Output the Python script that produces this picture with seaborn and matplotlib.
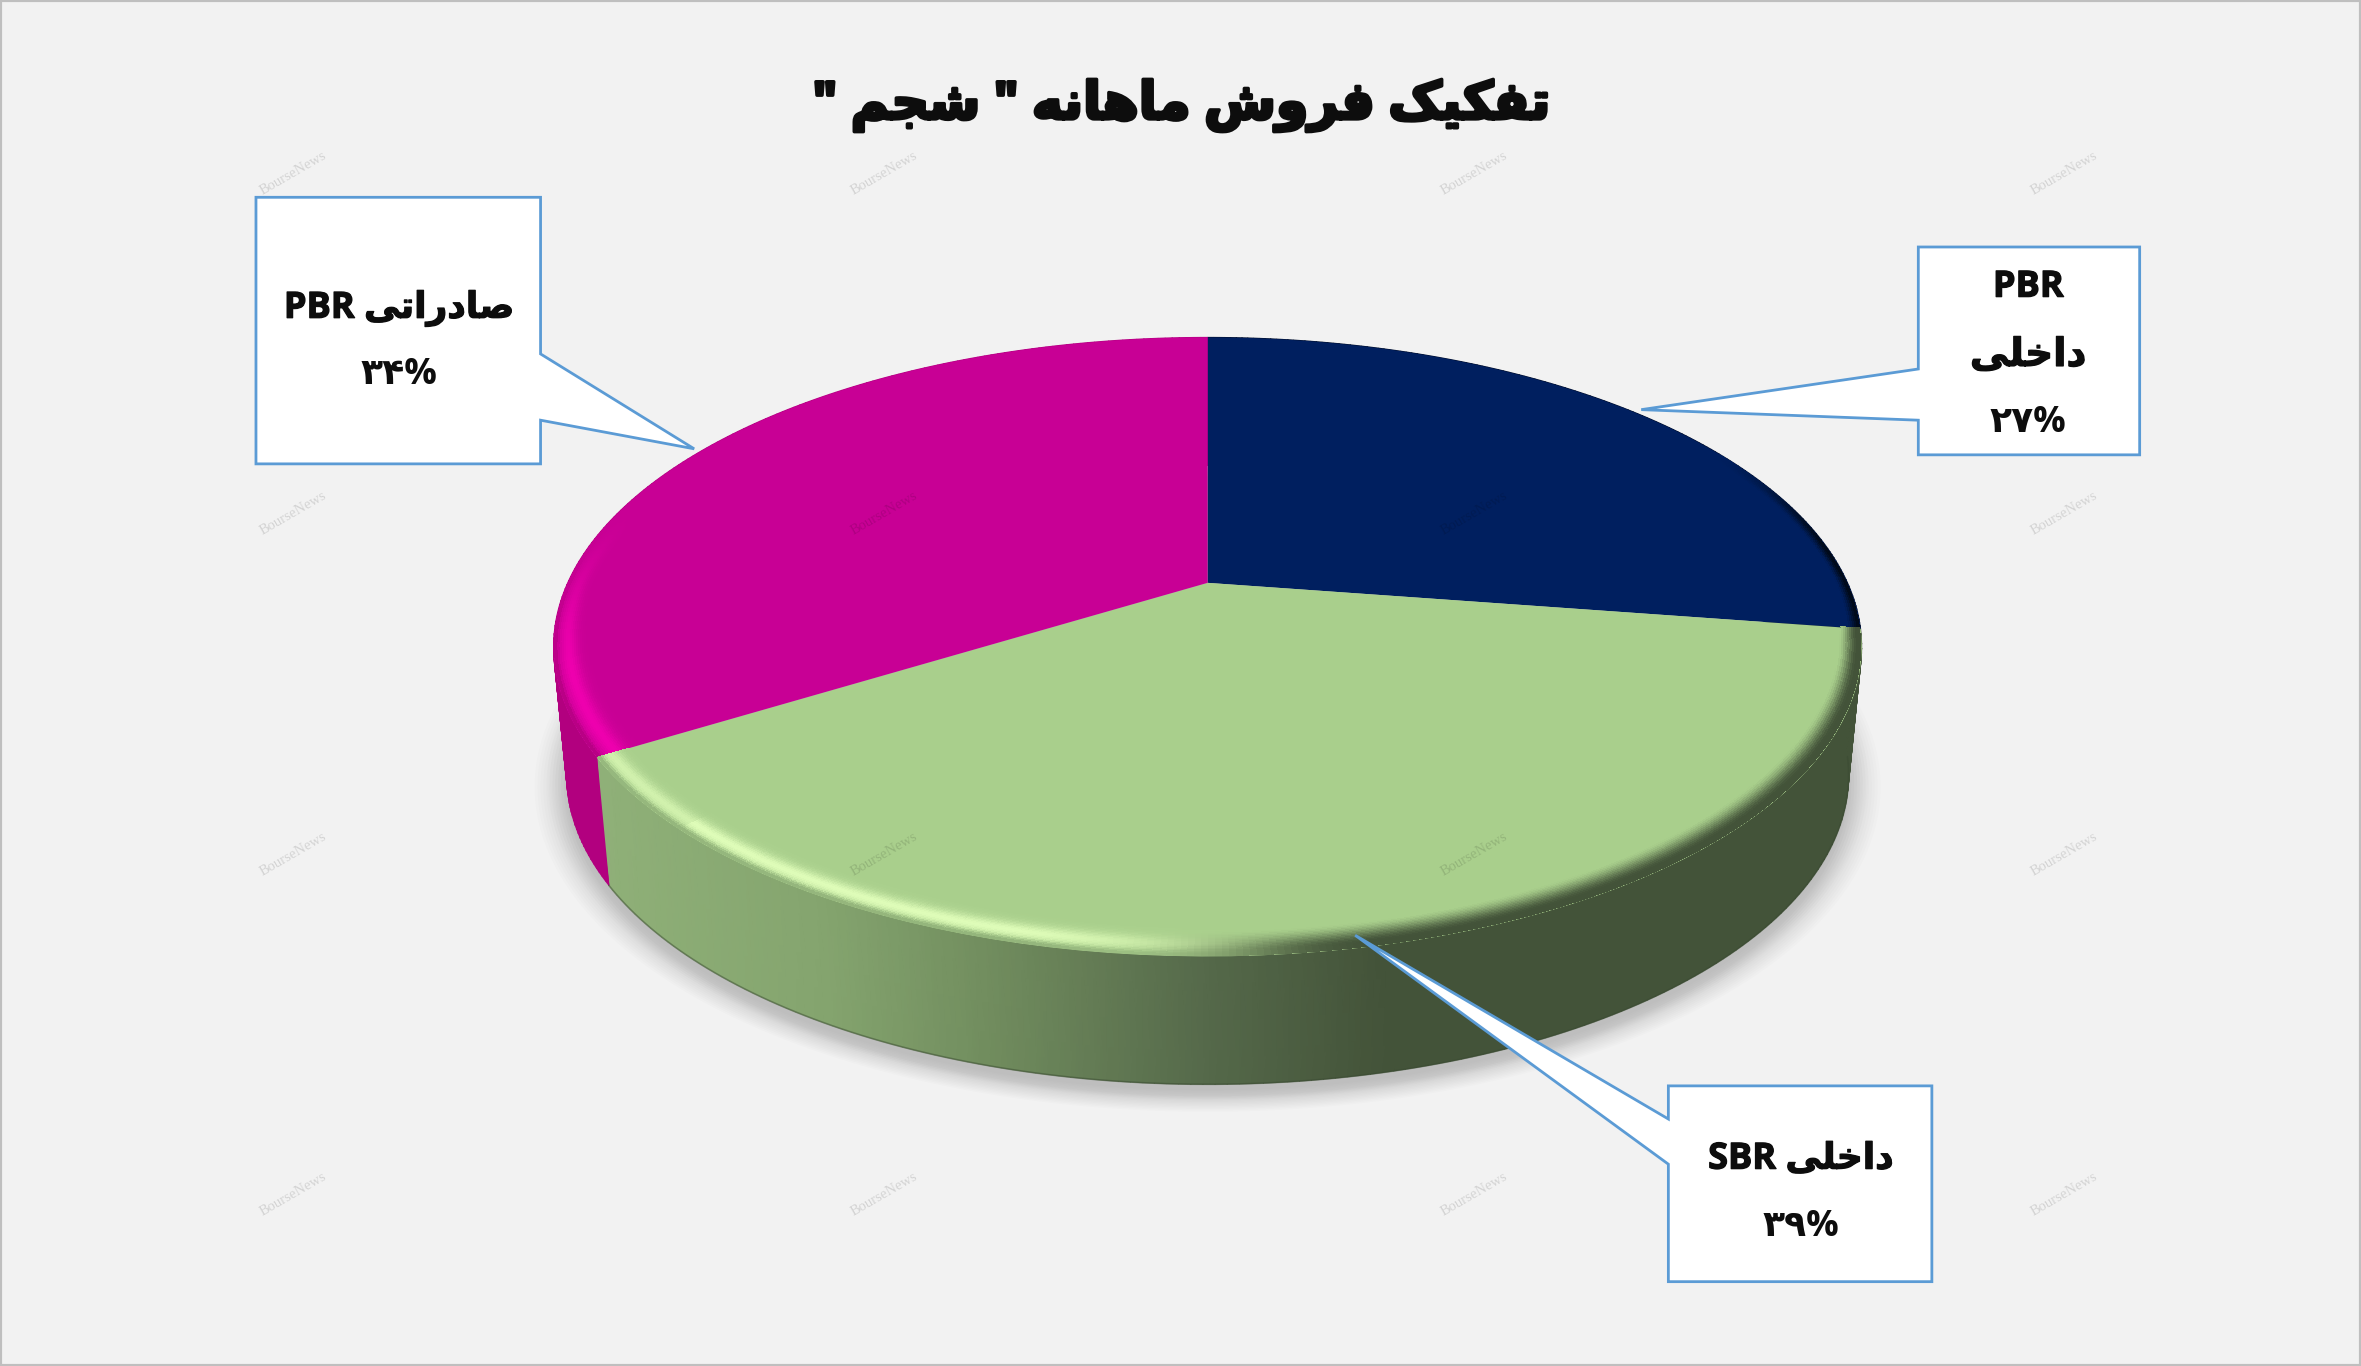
import numpy as np
import matplotlib
matplotlib.use("Agg")
import matplotlib.pyplot as plt
import matplotlib.patheffects as pe
import seaborn as sns
from matplotlib.transforms import Transform
from matplotlib.collections import PolyCollection
from matplotlib.colors import LinearSegmentedColormap, to_rgb
from matplotlib.patches import Polygon, Rectangle

# ---------- data ----------
series_names = ["PBR داخلی", "SBR داخلی", "صادراتی PBR"]
shares = [27.4, 38.8, 33.8]
share_labels = ["۲۷%", "۳۹%", "۳۴%"]
slice_colors = ["#001f5f", "#a9cf8c", "#c80095"]
title_text = 'تفکیک فروش ماهانه " شجم "'
watermark = "BourseNews"

# ---------- Persian shaping (matplotlib has no text shaping) ----------
FORMS = {
    "ت": (0xFE95, 0xFE96, 0xFE97, 0xFE98), "ف": (0xFED1, 0xFED2, 0xFED3, 0xFED4),
    "ک": (0xFB8E, 0xFB8F, 0xFB90, 0xFB91), "ی": (0xFBFC, 0xFBFD, 0xFBFE, 0xFBFF),
    "ش": (0xFEB5, 0xFEB6, 0xFEB7, 0xFEB8), "م": (0xFEE1, 0xFEE2, 0xFEE3, 0xFEE4),
    "ه": (0xFEE9, 0xFEEA, 0xFEEB, 0xFEEC), "ن": (0xFEE5, 0xFEE6, 0xFEE7, 0xFEE8),
    "ج": (0xFE9D, 0xFE9E, 0xFE9F, 0xFEA0), "ص": (0xFEB9, 0xFEBA, 0xFEBB, 0xFEBC),
    "خ": (0xFEA5, 0xFEA6, 0xFEA7, 0xFEA8), "ل": (0xFEDD, 0xFEDE, 0xFEDF, 0xFEE0),
    "ر": (0xFEAD, 0xFEAE), "و": (0xFEED, 0xFEEE), "ا": (0xFE8D, 0xFE8E), "د": (0xFEA9, 0xFEAA),
}

def shape(text):
    out = []
    for i, ch in enumerate(text):
        f = FORMS.get(ch)
        if f is None:
            out.append(ch)
            continue
        prev = text[i - 1] if i else ""
        nxt = text[i + 1] if i + 1 < len(text) else ""
        jp = prev in FORMS and len(FORMS[prev]) == 4
        jn = nxt in FORMS and len(f) == 4
        idx = 3 if jp and jn else 1 if jp else 2 if jn else 0
        out.append(chr(f[idx]))
    return "".join(reversed(out))

# ---------- figure ----------
sns.set_theme(style="white")
FAM = ["Open Sans", "DejaVu Sans"]
BG = "#f2f2f2"
fig = plt.figure(figsize=(23.61, 13.66), dpi=100, facecolor=BG)
ax = fig.add_axes([0, 0, 1, 1])

CX, CY, A, B, K = 802.0, 387.0, 425.0, 196.7, 0.2068
DEPTH, SHRINK = 85.0, 0.98


class Tilt(Transform):
    """Perspective view of the unit disc that ax.pie draws."""
    input_dims = output_dims = 2

    def transform_non_affine(self, xy):
        xy = np.asarray(xy, float)
        w = 1 + K * xy[:, 1]
        return np.column_stack([CX + A * xy[:, 0] / w, CY - B * xy[:, 1] / w])


tilt = Tilt()


def rim(theta_deg, r=1.0):
    p = np.radians(90 - np.asarray(theta_deg, float))
    return tilt.transform_non_affine(np.column_stack([r * np.cos(p), r * np.sin(p)]))


palette = sns.color_palette(slice_colors)
wedges, _ = ax.pie(shares, colors=palette, startangle=90, counterclock=False,
                   wedgeprops=dict(linewidth=0))
ax.set_aspect("auto")
ax.set_xlim(0, 1568)
ax.set_ylim(907, 0)
ax.set_xticks([])
ax.set_yticks([])
ax.set_frame_on(False)
for w in wedges:
    w.set_transform(tilt + ax.transData)
    w.set_clip_on(False)
    w.set_zorder(5)
    w.set_antialiased(True)

edges = np.cumsum([0] + shares) / sum(shares) * 360

# soft shadow under the disc
th = np.linspace(0, 360, 361)
base = rim(th)
for s in np.linspace(1.05, 1.0, 12):
    ax.fill(CX + (base[:, 0] - CX) * SHRINK * s, base[:, 1] + DEPTH + 8 + (base[:, 1] - 430) * (s - 1),
            color="black", alpha=0.011, lw=0, zorder=1)
for s in np.linspace(1.03, 1.0, 8):
    ax.fill(CX + (base[:, 0] - CX) * SHRINK * s, base[:, 1] + DEPTH + 4 + (base[:, 1] - 430) * (s - 1),
            color="black", alpha=0.009, lw=0, zorder=1)

# side wall, one gradient per slice
wall_maps = [
    LinearSegmentedColormap.from_list("n", ["#001030", "#000c28"]),
    LinearSegmentedColormap.from_list("g", [(0.0, "#8fb078"), (0.18, "#84a46e"), (0.30, "#728e5f"),
                                             (0.48, "#55694a"), (0.62, "#435339"), (1.0, "#435339")]),
    LinearSegmentedColormap.from_list("m", ["#b2007f", "#b2007f"]),
]
for i in range(3):
    t = np.linspace(edges[i], edges[i + 1], 160)
    top = rim(t)
    X = np.vstack([top[:, 0], CX + (top[:, 0] - CX) * SHRINK])
    Y = np.vstack([top[:, 1], top[:, 1] + DEPTH])
    C = np.clip((X - 400) / 840, 0, 1)
    ax.pcolormesh(X, Y, C, cmap=wall_maps[i], vmin=0, vmax=1, shading="gouraud", zorder=2)
    if i == 1:
        ax.plot(X[1], Y[1], color="#3a4a32", lw=1.2, zorder=3, alpha=0.5)


# bevel along the disc edge
def mix(a, b, w):
    a, b = np.array(to_rgb(a)), np.array(to_rgb(b))
    return a + (b - a) * np.clip(w, 0, 1)


def smooth(e0, e1, x):
    t = np.clip((x - e0) / (e1 - e0), 0, 1)
    return t * t * (3 - 2 * t)


quads, cols = [], []
radii = np.arange(0.92, 1.0001, 0.003)
for a0 in np.arange(0, 360, 0.5):
    a1 = a0 + 0.6
    mid = a0 + 0.25
    # keep the bevel about equally wide on screen all round the ellipse
    f = 0.5 + 0.5 * abs(np.cos(np.radians(mid)))
    for r0 in radii[:-1]:
        r1 = r0 + 0.0035
        rc = 1 - (1 - (r0 + 0.0015)) / f
        c = None
        if mid < edges[1]:  # navy
            w = smooth(60, 85, mid) * smooth(0.965, 1.0, rc)
            if w > 0.01:
                c = mix(slice_colors[0], "#000814", w)
        elif mid < edges[2]:  # green
            dark = smooth(188, 168, mid)
            light = smooth(172, 195, mid)
            w_dark = smooth(0.945, 0.99, rc) * dark
            w_light = np.exp(-((rc - 0.975) / 0.017) ** 2) * light
            edge_w = smooth(0.985, 1.0, rc) * light
            if w_dark > 0.01 or w_light > 0.01 or edge_w > 0.01:
                c = mix(slice_colors[1], "#435339", w_dark)
                c = mix(c, "#defcb8", w_light * (0.75 if mid > 225 else 1.0))
                c = mix(c, "#8fb078", edge_w)
        else:  # magenta
            glow = smooth(285, 252, mid)
            w = np.exp(-((rc - 0.965) / 0.022) ** 2) * glow
            e = smooth(0.985, 1.0, rc) * glow
            if w > 0.01 or e > 0.01:
                c = mix(slice_colors[2], "#ee00ae", w)
                c = mix(c, "#b2007f", e)
        if c is None:
            continue
        q = np.vstack([rim([a0, a1], r0), rim([a1, a0], r1)])
        quads.append(q)
        cols.append(c)
ax.add_collection(PolyCollection(quads, facecolors=cols, edgecolors="none",
                                 antialiaseds=False, zorder=6))

# watermark grid
for wx in (195, 587, 979, 1371):
    for wy in (115, 341, 567, 793):
        ax.text(wx, wy, watermark, family="Liberation Serif", fontsize=10.5, color="black",
                alpha=0.13, rotation=30, ha="center", va="center", zorder=7)

# callouts
BLUE = "#5b9bd5"
callouts = [
    [(170, 131), (359, 131), (359, 235), (461, 298), (359, 279), (359, 308), (170, 308)],
    [(1274, 164), (1421, 164), (1421, 302), (1274, 302), (1274, 279), (1090, 272), (1274, 245)],
    [(1108, 721), (1283, 721), (1283, 851), (1108, 851), (1108, 773), (900, 621), (1108, 743)],
]
for pts in callouts:
    ax.add_patch(Polygon(pts, closed=True, facecolor="white", edgecolor=BLUE, lw=2.0,
                         joinstyle="miter", zorder=8))

INK = "#0d0d0d"
def label(x, y, s, size=26, stroke=0.9):
    t = ax.text(x, y, s, family=FAM, fontsize=size, fontweight="bold", color=INK,
                ha="center", va="center", zorder=9)
    if stroke:
        t.set_path_effects([pe.withStroke(linewidth=stroke, foreground=INK)])

label(265, 205, "PBR " + shape("صادراتی"))
label(265, 249, share_labels[2], stroke=0)
label(1347, 191, "PBR")
label(1347, 236, shape("داخلی"), size=28)
label(1347, 281, share_labels[0], stroke=0)
label(1196, 770, "SBR " + shape("داخلی"))
label(1196, 815, share_labels[1], stroke=0)

title = ax.text(785, 70, shape(title_text), family=FAM, fontsize=37.5, fontweight="bold",
                color=INK, ha="center", va="center", zorder=9)
title.set_path_effects([pe.withStroke(linewidth=2.5, foreground=INK)])

# outer frame
ax.add_patch(Rectangle((0, 0), 1568, 907, fill=False, edgecolor="#bfbfbf", lw=3, zorder=10, clip_on=True))

fig.savefig("out.png", dpi=100, facecolor=BG)
